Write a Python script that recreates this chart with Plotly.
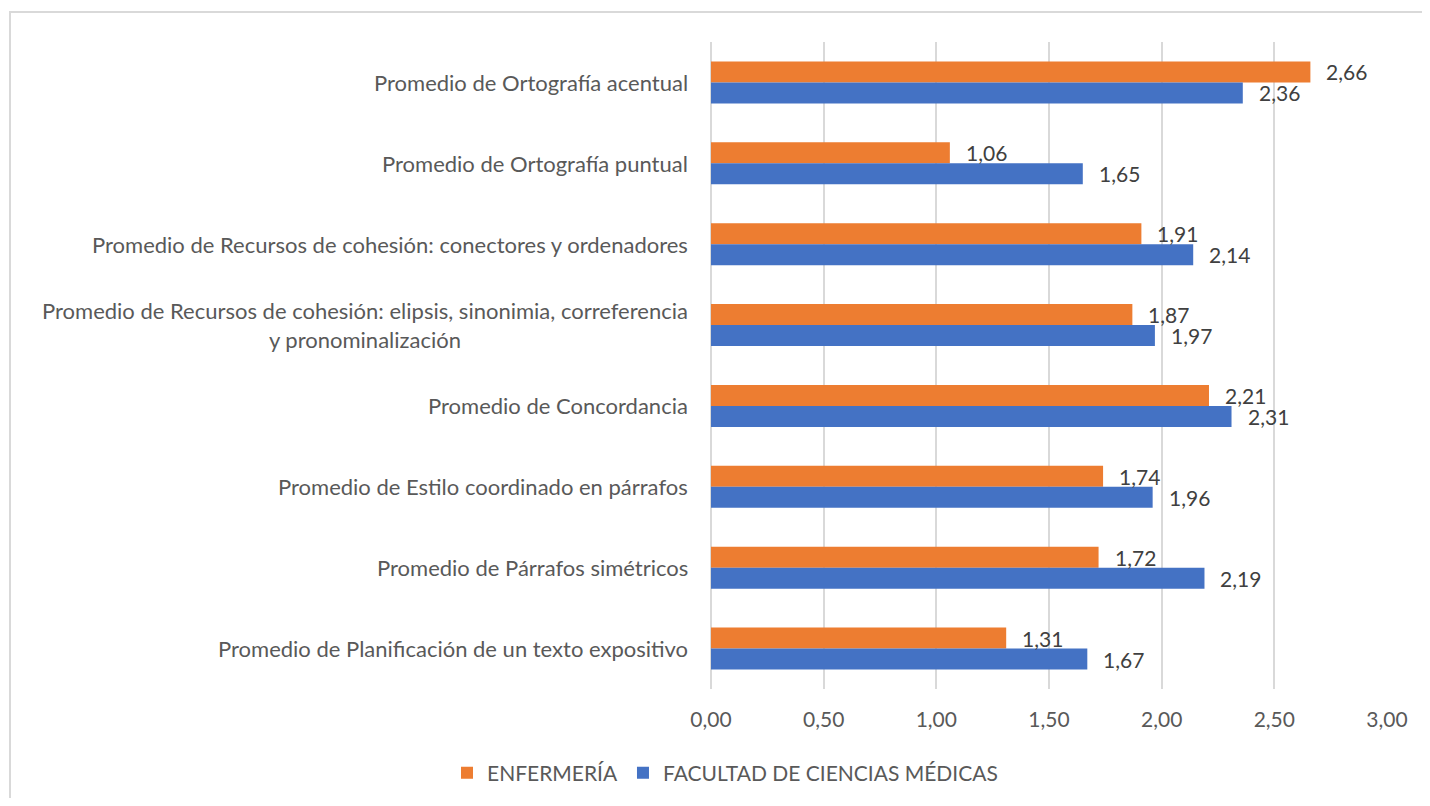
import plotly.graph_objects as go

categories = [
    "Promedio de Ortografía acentual",
    "Promedio de Ortografía puntual",
    "Promedio de Recursos de cohesión: conectores y ordenadores",
    "Promedio de Recursos de cohesión: elipsis, sinonimia, correferencia<br>y pronominalización",
    "Promedio de Concordancia",
    "Promedio de Estilo coordinado en párrafos",
    "Promedio de Párrafos simétricos",
    "Promedio de Planificación de un texto expositivo",
]
enfermeria = [2.66, 1.06, 1.91, 1.87, 2.21, 1.74, 1.72, 1.31]
facultad = [2.36, 1.65, 2.14, 1.97, 2.31, 1.96, 2.19, 1.67]
series_names = ["ENFERMERÍA", "FACULTAD DE CIENCIAS MÉDICAS"]
tick_vals = [0, 0.5, 1.0, 1.5, 2.0, 2.5, 3.0]

ORANGE = "#ED7D31"
BLUE = "#4472C4"
FONT = "Lato"
OFF = 8  # page body margin
W, H = 1414, 790
L, T = 711 - OFF, 42 - OFF
R = OFF + W - 1387
B = H + OFF - 689
pw, ph = W - L - R, H - T - B


def fmt(v):
    return f"{v:.2f}".replace(".", ",")


def px_x(p):
    return (p - OFF - L) / pw


def px_y(p):
    return (689 - p) / ph


fig = go.Figure()
fig.add_trace(go.Bar(y=categories, x=enfermeria, orientation="h", name=series_names[0],
                     marker=dict(color=ORANGE, line=dict(width=0))))
fig.add_trace(go.Bar(y=categories, x=facultad, orientation="h", name=series_names[1],
                     marker=dict(color=BLUE, line=dict(width=0))))

annotations = []
for c in categories:
    annotations.append(dict(x=0, y=c, xref="x", yref="y", text=c, showarrow=False,
                            xanchor="right", yanchor="middle", xshift=-21, align="center",
                            font=dict(family=FONT, size=22, color="#595959")))
for vals, ys in ((enfermeria, 10.5), (facultad, -10.5)):
    for c, v in zip(categories, vals):
        annotations.append(dict(x=v, y=c, xref="x", yref="y", text=fmt(v), showarrow=False,
                                xanchor="left", yanchor="middle", xshift=14, yshift=ys,
                                font=dict(family=FONT, size=21, color="#404040")))

fig.update_layout(
    width=W, height=H,
    margin=dict(l=L, r=R, t=T, b=B, pad=0, autoexpand=False),
    paper_bgcolor="white", plot_bgcolor="white",
    barmode="group", bargap=0.48, bargroupgap=0,
    separators=",.",
    font=dict(family=FONT, size=21, color="#595959"),
    showlegend=True,
    legend=dict(orientation="h", x=px_x(447), xanchor="left",
                y=px_y(773), yanchor="middle",
                font=dict(family=FONT, size=21, color="#595959"),
                traceorder="normal", itemclick=False),
    annotations=annotations,
    shapes=[dict(type="rect", xref="paper", yref="paper",
                 x0=px_x(10), x1=1.3, y0=-0.5, y1=px_y(12),
                 line=dict(color="#D9D9D9", width=2), layer="below")],
)
fig.update_xaxes(range=[0, 3], tickvals=tick_vals, tickformat=".2f",
                 showgrid=True, gridcolor="#D9D9D9", gridwidth=1.5,
                 zeroline=True, zerolinecolor="#D9D9D9", zerolinewidth=1.5,
                 ticks="outside", ticklen=12, tickcolor="rgba(0,0,0,0)",
                 tickfont=dict(family=FONT, size=21, color="#595959"),
                 showline=False, fixedrange=True)
fig.update_yaxes(autorange="reversed", showticklabels=False, showgrid=False,
                 zeroline=False, showline=False, fixedrange=True)

fig.write_html("out.html")
